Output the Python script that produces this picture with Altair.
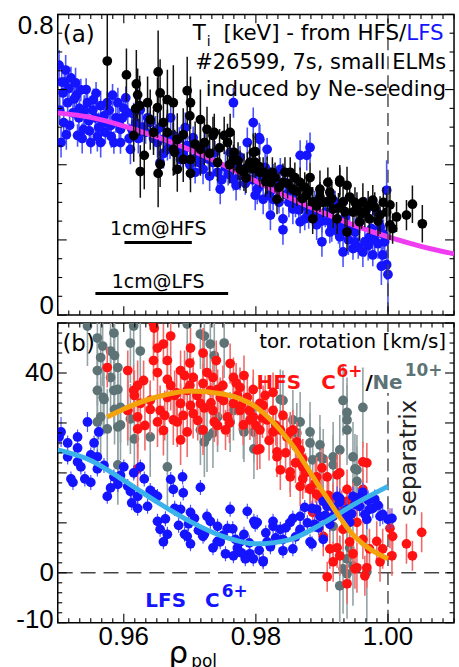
import altair as alt
import numpy as np
import pandas as pd

# ---------------- axes / domains ----------------
RHO_DOMAIN = [0.95, 1.01]
TI_DOMAIN = [0.0, 0.8]
V_DOMAIN = [-10.0, 50.0]

rho_major = [0.96, 0.98, 1.00]
rho_tick_labels = ["0.96", "0.98", "1.00"]
ti_major = [0.0, 0.2, 0.4, 0.6, 0.8]
ti_label_values = [0.8, 0.0]
ti_label_texts = ["0.8", "0"]
v_major = [-10, 0, 10, 20, 30, 40, 50]
v_label_values = [40, 0, -10]
v_label_texts = ["40", "0", "-10"]
rho_minor_step = 0.02 / 12
ti_minor_step = 0.05
v_minor_step = 2.0

# ---------------- panel (a): Ti [keV] ----------------
# LFS (blue) : (rho, Ti, error)
lfs_ti = [(0.9502,0.665,0.04),(0.9512,0.652,0.04),(0.9520,0.631,0.03),(0.9527,0.618,0.04),(0.9535,0.599,0.03),
 (0.9508,0.591,0.04),(0.9515,0.565,0.03),(0.9523,0.538,0.04),(0.9509,0.512,0.03),(0.9505,0.459,0.04),
 (0.9530,0.478,0.03),(0.9545,0.565,0.04),(0.9554,0.573,0.03),(0.9565,0.557,0.04),(0.9575,0.565,0.03),
 (0.9550,0.459,0.03),(0.9565,0.459,0.04),(0.9585,0.459,0.03),(0.9591,0.565,0.04),(0.9606,0.538,0.03),
 (0.9610,0.441,0.04),(0.9539,0.494,0.03),(0.9580,0.504,0.04),(0.9595,0.494,0.03),(0.9625,0.546,0.04),
 (0.9640,0.512,0.03),(0.9651,0.459,0.04),(0.9666,0.441,0.03),(0.9675,0.478,0.04),(0.9655,0.406,0.04),
 (0.9686,0.414,0.03),(0.9696,0.451,0.04),(0.9711,0.425,0.03),(0.9720,0.388,0.04),(0.9735,0.406,0.03),
 (0.9746,0.335,0.04),(0.9766,0.565,0.04),(0.9766,0.361,0.03),(0.9776,0.372,0.04),(0.9787,0.459,0.04),
 (0.9796,0.512,0.04),(0.9791,0.406,0.03),(0.9806,0.467,0.04),(0.9817,0.441,0.03),(0.9802,0.335,0.04),
 (0.9811,0.308,0.04),(0.9826,0.372,0.03),(0.9837,0.388,0.03),(0.9805,0.472,0.04),(0.9799,0.319,0.04),
 (0.9822,0.266,0.04),(0.9841,0.227,0.04),(0.9841,0.256,0.03),(0.9826,0.308,0.03),(0.9856,0.282,0.04),
 (0.9877,0.425,0.04),(0.9882,0.446,0.04),(0.9874,0.256,0.03),(0.9900,0.195,0.04),(0.9912,0.221,0.03),
 (0.9932,0.168,0.04),(0.9947,0.177,0.03),(0.9962,0.168,0.04),(0.9977,0.160,0.03),(0.9992,0.160,0.04),
 (0.9998,0.134,0.04),(1.0000,0.108,0.10),(0.9998,0.332,0.08),(0.9983,0.274,0.03),(0.9968,0.282,0.03),
 (0.9942,0.230,0.04),(0.9923,0.248,0.03),(0.9892,0.240,0.04),(0.9867,0.248,0.03),(0.9852,0.335,0.04),
 (0.9826,0.335,0.03),(0.9806,0.345,0.04),(0.9781,0.372,0.03),(0.9867,0.425,0.04),(0.9517,0.603,0.03),
 (0.9557,0.525,0.04),(0.9572,0.486,0.03),(0.9588,0.525,0.04),(0.9603,0.578,0.03),(0.9618,0.512,0.04),
 (0.9633,0.486,0.03),(0.9532,0.525,0.04),(0.9547,0.517,0.03),(0.9562,0.499,0.04),(0.9595,0.459,0.03),
 (0.9655,0.499,0.04),(0.9671,0.525,0.03),(0.9693,0.499,0.04),(0.9705,0.472,0.03),(0.9723,0.446,0.04),
 (0.9738,0.433,0.03),(0.9754,0.393,0.04),(0.9708,0.380,0.03),(0.9761,0.433,0.04),(0.9776,0.420,0.03),
 (0.9814,0.393,0.04),(0.9844,0.353,0.03),(0.9859,0.327,0.04),(0.9889,0.301,0.03),(0.9905,0.274,0.04),
 (0.9920,0.301,0.03),(0.9935,0.261,0.04),(0.9957,0.248,0.03),(0.9972,0.208,0.04),(0.9988,0.235,0.03),
 (0.9995,0.195,0.04),(0.9950,0.195,0.03),(0.9965,0.195,0.04),(0.9927,0.208,0.03),
 (0.9510,0.620,0.04),(0.9528,0.585,0.03),(0.9540,0.545,0.04),(0.9558,0.590,0.03),(0.9570,0.530,0.04),
 (0.9583,0.585,0.03),(0.9598,0.525,0.04),(0.9612,0.495,0.03),(0.9622,0.470,0.04),(0.9645,0.470,0.03),
 (0.9660,0.430,0.04),(0.9680,0.440,0.03),(0.9700,0.400,0.04),(0.9715,0.405,0.03),(0.9730,0.370,0.04),
 (0.9748,0.360,0.03),(0.9770,0.345,0.04),(0.9795,0.360,0.03),(0.9820,0.320,0.04),(0.9835,0.300,0.03),
 (0.9850,0.300,0.04),(0.9865,0.280,0.03),(0.9880,0.270,0.04),(0.9895,0.265,0.03),(0.9910,0.250,0.04),
 (0.9930,0.235,0.03),(0.9950,0.220,0.04),(0.9975,0.230,0.03),(0.9985,0.190,0.04),(0.9990,0.130,0.05),
 (0.9503,0.545,0.04),(0.9506,0.620,0.04),(0.9513,0.480,0.04),(0.9518,0.505,0.03),(0.9525,0.575,0.04),
 (0.9533,0.550,0.03),(0.9537,0.470,0.04),(0.9543,0.600,0.03),(0.9548,0.490,0.04),(0.9553,0.545,0.03),
 (0.9560,0.475,0.04),(0.9568,0.510,0.03),(0.9578,0.545,0.04),(0.9581,0.475,0.03),(0.9593,0.510,0.04),
 (0.9600,0.550,0.03),(0.9608,0.470,0.04),(0.9615,0.535,0.03),(0.9628,0.500,0.04),(0.9636,0.525,0.03),
 (0.9648,0.490,0.04),(0.9662,0.470,0.03),(0.9670,0.455,0.04),(0.9684,0.470,0.03),(0.9690,0.430,0.04),
 (0.9702,0.445,0.03),(0.9718,0.420,0.04),(0.9728,0.415,0.03),(0.9742,0.380,0.04),(0.9758,0.375,0.03),
 (0.9773,0.395,0.04),(0.9784,0.350,0.03),(0.9800,0.380,0.04),(0.9810,0.360,0.03),(0.9830,0.345,0.04),
 (0.9846,0.320,0.03),(0.9860,0.300,0.04),(0.9872,0.290,0.03),(0.9886,0.280,0.04),(0.9900,0.250,0.03),
 (0.9915,0.235,0.04),(0.9925,0.220,0.03),(0.9940,0.200,0.04),(0.9955,0.180,0.03),(0.9970,0.185,0.04),
 (0.9980,0.200,0.03),(0.9993,0.215,0.04)]

# HFS (black) : (rho, Ti, error)
hfs_ti = [(0.9575,0.676,0.13),(0.9604,0.639,0.07),(0.9619,0.615,0.09),(0.9652,0.647,0.11),(0.9621,0.586,0.07),
 (0.9618,0.549,0.06),(0.9636,0.565,0.07),(0.9655,0.591,0.09),(0.9666,0.573,0.08),(0.9675,0.565,0.10),
 (0.9696,0.597,0.09),(0.9701,0.565,0.07),(0.9615,0.478,0.07),(0.9631,0.425,0.09),(0.9645,0.486,0.06),
 (0.9660,0.512,0.08),(0.9625,0.382,0.07),(0.9652,0.377,0.09),(0.9655,0.401,0.06),(0.9681,0.388,0.06),
 (0.9701,0.377,0.05),(0.9690,0.414,0.06),(0.9675,0.441,0.07),(0.9716,0.441,0.07),(0.9726,0.494,0.06),
 (0.9735,0.478,0.05),(0.9716,0.520,0.08),(0.9742,0.406,0.05),(0.9757,0.459,0.05),(0.9761,0.486,0.05),
 (0.9766,0.414,0.04),(0.9776,0.388,0.05),(0.9796,0.433,0.05),(0.9806,0.380,0.04),(0.9817,0.372,0.05),
 (0.9832,0.308,0.04),(0.9841,0.353,0.05),(0.9852,0.380,0.04),(0.9856,0.335,0.05),(0.9867,0.353,0.04),
 (0.9877,0.319,0.05),(0.9886,0.301,0.04),(0.9897,0.335,0.05),(0.9908,0.301,0.04),(0.9917,0.282,0.05),
 (0.9927,0.353,0.04),(0.9938,0.345,0.05),(0.9923,0.256,0.04),(0.9886,0.256,0.04),(0.9938,0.221,0.05),
 (0.9947,0.274,0.04),(0.9962,0.301,0.05),(0.9977,0.306,0.04),(0.9957,0.248,0.05),(0.9972,0.256,0.04),
 (0.9988,0.266,0.05),(0.9998,0.274,0.05),(1.0003,0.293,0.05),(1.0007,0.230,0.04),(1.0013,0.261,0.04),
 (1.0028,0.266,0.04),(1.0037,0.295,0.05),(1.0052,0.243,0.05),(1.0003,0.240,0.04),(0.9624,0.557,0.08),
 (0.9651,0.552,0.08),(0.9666,0.486,0.06),(0.9681,0.467,0.07),(0.9677,0.433,0.06),(0.9701,0.414,0.05),
 (0.9722,0.459,0.06),(0.9737,0.486,0.05),(0.9752,0.478,0.05),(0.9767,0.433,0.05),(0.9782,0.380,0.05),
 (0.9791,0.406,0.05),(0.9787,0.393,0.04),(0.9799,0.406,0.04),(0.9811,0.380,0.04),(0.9822,0.353,0.04),
 (0.9829,0.366,0.04),(0.9844,0.380,0.04),(0.9859,0.366,0.04),(0.9874,0.340,0.04),(0.9882,0.366,0.04),
 (0.9897,0.314,0.04),(0.9912,0.327,0.04),(0.9932,0.301,0.04),(0.9942,0.314,0.04),(0.9953,0.287,0.04),
 (0.9965,0.274,0.04),(0.9980,0.287,0.04),(0.9799,0.435,0.05),(0.9927,0.359,0.04),(0.9909,0.353,0.04),
 (0.9760,0.400,0.05),(0.9773,0.410,0.05),(0.9785,0.365,0.04),(0.9795,0.390,0.04),(0.9805,0.395,0.04),
 (0.9815,0.355,0.04),(0.9825,0.380,0.04),(0.9835,0.340,0.04),(0.9848,0.350,0.04),(0.9862,0.330,0.04),
 (0.9870,0.310,0.04),(0.9880,0.330,0.04),(0.9892,0.290,0.04),(0.9902,0.300,0.04),(0.9915,0.310,0.04),
 (0.9925,0.285,0.04),(0.9935,0.275,0.04),(0.9950,0.300,0.04),(0.9960,0.270,0.04),(0.9970,0.290,0.04),
 (0.9985,0.250,0.04),(0.9993,0.300,0.04),(0.9708,0.455,0.06),(0.9730,0.430,0.06),(0.9745,0.445,0.05),
 (0.9690,0.480,0.07),(0.9640,0.520,0.08),(0.9700,0.530,0.07)]

ti_fit_x = [0.950, 0.955, 0.960, 0.965, 0.970, 0.975, 0.980, 0.985, 0.990, 0.995, 1.000, 1.005, 1.010]
ti_fit_y = [0.538, 0.526, 0.503, 0.474, 0.440, 0.400, 0.356, 0.313, 0.274, 0.238, 0.208, 0.183, 0.163]

scalebar_text = ["1cm@HFS", "1cm@LFS"]
scalebar_start = [0.9601, 0.9557]
scalebar_end = [0.9703, 0.9758]
scalebar_y = [0.193, 0.0573]
scalebar_label_x = [0.9652, 0.9652]
scalebar_label_y = [0.229, 0.089]

# ---------------- panel (b): toroidal rotation [km/s] ----------------
lfs_v = [(0.9502,27.2,1.5),(0.9515,26.0,1.5),(0.9530,27.2,1.5),(0.9545,30.2,2.0),(0.9562,28.2,1.5),(0.9515,23.2,1.5),
 (0.9523,18.1,1.5),(0.9535,21.2,1.5),(0.9550,18.1,1.5),(0.9560,23.2,1.5),(0.9575,15.3,1.5),(0.9585,19.2,1.5),
 (0.9600,21.2,1.5),(0.9606,17.3,1.5),(0.9615,20.0,1.5),(0.9621,15.3,1.5),(0.9625,21.2,1.5),(0.9636,13.3,1.5),
 (0.9651,15.3,1.5),(0.9655,8.7,1.5),(0.9660,6.2,1.5),(0.9671,18.7,1.5),(0.9675,16.7,1.5),(0.9689,19.2,1.5),
 (0.9686,12.7,1.5),(0.9701,12.1,1.5),(0.9696,7.3,1.5),(0.9716,17.1,1.5),(0.9720,7.3,1.5),(0.9726,11.3,1.5),
 (0.9742,9.3,1.5),(0.9746,6.2,1.5),(0.9761,12.7,1.5),(0.9766,3.4,1.5),(0.9776,6.2,1.5),(0.9787,12.3,1.5),
 (0.9796,2.8,1.5),(0.9811,2.2,1.5),(0.9802,10.1,1.5),(0.9817,6.2,1.5),(0.9826,9.3,1.5),(0.9841,6.7,1.5),
 (0.9852,10.1,1.5),(0.9856,4.8,1.5),(0.9867,11.3,1.5),(0.9882,6.2,1.5),(0.9892,12.7,1.5),(0.9902,6.7,1.5),
 (0.9908,13.3,1.5),(0.9917,11.3,1.5),(0.9927,14.1,2.0),(0.9938,12.7,2.0),(0.9947,15.3,2.0),(0.9957,13.3,2.0),
 (0.9962,16.1,2.0),(0.9972,12.7,2.0),(0.9988,11.3,2.0),(1.0000,10.7,2.0),(0.9923,15.3,2.0),(0.9942,10.1,2.0),
 (0.9968,10.7,2.0),(0.9897,11.3,1.5),(0.9505,28.2,3.0),(0.9520,18.8,1.5),(0.9541,18.8,1.5),(0.9530,22.2,1.5),
 (0.9550,23.6,1.5),(0.9560,20.8,1.5),(0.9591,17.7,1.5),(0.9610,16.3,1.5),(0.9621,12.9,1.5),(0.9631,18.8,1.5),
 (0.9646,15.7,1.5),(0.9651,10.3,1.5),(0.9666,7.7,1.5),(0.9677,12.9,1.5),(0.9692,7.7,1.5),(0.9701,5.8,1.5),
 (0.9707,10.9,1.5),(0.9722,7.7,1.5),(0.9731,10.3,1.5),(0.9742,6.3,1.5),(0.9757,8.9,1.5),(0.9772,5.0,1.5),
 (0.9782,7.7,1.5),(0.9791,3.8,1.5),(0.9797,10.3,1.5),(0.9799,9.7,1.5),(0.9826,10.3,1.5),(0.9856,10.9,1.5),
 (0.9885,12.9,1.5),(0.9902,14.3,1.5),(0.9927,14.9,2.0),(0.9977,12.9,2.0),(0.9992,11.7,2.0),(1.0006,10.9,2.0),
 (0.9841,4.4,1.5),(0.9811,2.4,1.5),(0.9885,5.8,1.5),(0.9867,8.7,1.5),(0.9912,9.7,1.5),(0.9935,10.7,2.0),
 (0.9950,13.7,2.0),(0.9980,14.7,2.0),(0.9965,11.7,2.0),(0.9889,9.7,1.5),(0.9874,13.1,1.5),(0.9837,8.7,1.5),
 (0.9822,5.2,1.5),(0.9769,6.7,1.5),(0.9754,3.8,1.5),(0.9784,2.8,1.5),
 (0.9663,10.8,1.5),(0.9683,9.5,1.5),(0.9698,9.8,1.5),(0.9713,8.5,1.5),(0.9735,5.0,1.5),(0.9750,7.5,1.5),
 (0.9765,8.8,1.5),(0.9778,4.0,1.5),(0.9790,6.0,1.5),(0.9805,4.5,1.5),(0.9815,8.0,1.5),(0.9830,7.0,1.5),
 (0.9845,9.0,1.5),(0.9860,7.2,1.5),(0.9878,10.0,1.5),(0.9895,9.0,1.5),(0.9905,11.5,1.5),(0.9918,13.0,2.0),
 (0.9932,12.0,2.0),(0.9945,11.8,2.0),(0.9955,15.0,2.0),(0.9970,14.5,2.0),(0.9985,13.5,2.0),(0.9530,25.0,1.5),
 (0.9555,26.0,1.5),(0.9570,21.5,1.5),(0.9580,17.0,1.5),(0.9595,19.5,1.5),(0.9612,14.0,1.5),(0.9640,16.5,1.5),
 (0.9690,16.0,1.5)]

hfs_c_v = [(0.9575,41.1,4),(0.9606,40.5,4),(0.9630,38.5,4),(0.9615,36.5,5),(0.9645,49.8,5),(0.9651,45.0,5),
 (0.9660,45.8,4),(0.9671,47.4,5),(0.9645,42.5,4),(0.9666,42.5,5),(0.9686,40.5,4),(0.9701,45.0,4),(0.9705,39.1,4),
 (0.9720,37.9,4),(0.9735,39.1,4),(0.9761,41.9,4),(0.9766,39.1,4),(0.9776,37.1,4),(0.9621,31.2,6),(0.9625,33.9,5),
 (0.9640,34.5,4),(0.9655,32.5,5),(0.9666,35.1,4),(0.9675,30.6,5),(0.9686,33.9,4),(0.9696,36.5,4),(0.9705,31.9,5),
 (0.9716,33.9,4),(0.9720,28.6,5),(0.9735,32.5,4),(0.9746,35.1,4),(0.9757,31.2,4),(0.9766,33.9,4),(0.9776,32.5,4),
 (0.9787,35.1,4),(0.9796,31.2,4),(0.9806,33.9,4),(0.9806,28.6,4),(0.9817,30.6,4),(0.9802,24.6,4),(0.9826,32.5,4),
 (0.9837,28.6,4),(0.9847,27.2,4),(0.9856,28.6,4),(0.9832,23.2,4),(0.9837,20.6,4),(0.9852,19.2,4),(0.9867,24.6,4),
 (0.9871,21.2,4),(0.9867,17.3,4),(0.9882,16.7,4),(0.9892,19.2,4),(0.9908,19.2,4),(0.9927,20.0,4),(0.9897,15.3,4),
 (0.9917,14.1,4),(0.9938,16.7,4),(0.9947,14.1,4),(0.9968,22.0,4),(0.9962,16.7,4),(0.9902,7.3,4),(0.9912,4.8,4),
 (0.9927,3.4,4),(0.9942,6.2,4),(0.9953,10.1,4),(0.9962,6.7,4),(0.9972,4.8,4),(0.9988,2.2,4),(0.9992,4.8,4),
 (1.0007,7.3,4),(1.0006,3.4,4),(1.0028,5.8,4),(1.0037,3.4,3),(1.0051,8.1,4),(0.9908,-0.8,3),(0.9938,-2.2,4),
 (0.9950,0.8,4),(0.9965,-0.6,4),(0.9917,2.2,4),(0.9886,12.1,4),(0.9932,8.7,4),(0.9621,37.5,5),(0.9616,35.5,5),
 (0.9651,40.1,5),(0.9666,38.7,5),(0.9677,35.5,5),(0.9662,31.5,5),(0.9640,32.7,5),(0.9621,28.8,6),(0.9651,30.2,5),
 (0.9696,28.2,5),(0.9681,30.2,5),(0.9701,33.5,5),(0.9737,30.2,4),(0.9726,40.1,4),(0.9742,36.7,4),(0.9782,39.5,4),
 (0.9692,39.5,5),(0.9646,49.0,5),(0.9796,36.7,4),(0.9811,33.5,4),(0.9826,36.1,4),(0.9841,31.5,4),(0.9826,28.2,4),
 (0.9852,28.2,4),(0.9862,26.2,4),(0.9806,24.8,4),(0.9832,24.2,4),(0.9852,20.2,4),(0.9871,22.8,4),(0.9871,18.8,4),
 (0.9882,16.9,4),(0.9892,15.7,4),(0.9923,19.6,4),(0.9962,22.2,4),(0.9938,14.3,4),(0.9923,5.0,4),(0.9947,3.8,4),
 (0.9953,1.0,5),(0.9968,1.0,4),(0.9983,6.3,4),(1.0003,8.9,4),(0.9671,37.5,5),(0.9711,35.5,4),(0.9731,36.5,4),
 (0.9751,34.5,4),(0.9772,35.5,4),(0.9791,30.6,4),(0.9814,35.5,4),(0.9781,29.6,4),(0.9754,28.6,4),(0.9686,26.6,5),
 (0.9606,32.5,6),(0.9621,20.8,5),
 (0.9680,36.0,5),(0.9690,31.5,5),(0.9700,37.5,4),(0.9712,30.5,4),(0.9722,33.0,4),(0.9732,34.0,4),(0.9742,29.5,4),
 (0.9750,37.5,4),(0.9760,30.0,4),(0.9770,38.0,4),(0.9778,33.5,4),(0.9790,32.5,4),(0.9800,29.5,4),(0.9810,31.0,4),
 (0.9820,26.5,4),(0.9830,29.5,4),(0.9845,24.0,4),(0.9860,22.0,4),(0.9875,20.0,4),(0.9890,18.0,4),(0.9900,21.0,4),
 (0.9910,15.5,4),(0.9930,12.5,4),(0.9660,28.5,5),(0.9632,29.5,5),(0.9700,42.0,4),(0.9740,42.5,4),(0.9720,44.0,5)]

hfs_ne_v = [(0.9545,49.4,8),(0.9560,47.0,8),(0.9585,48.0,8),(0.9615,49.4,8),(0.9610,46.0,8),(0.9625,44.4,7),
 (0.9565,43.1,7),(0.9580,44.4,8),(0.9560,40.5,7),(0.9580,39.1,7),(0.9591,41.1,7),(0.9560,36.5,7),(0.9569,35.1,7),
 (0.9585,36.5,7),(0.9595,33.1,7),(0.9565,31.2,8),(0.9591,29.2,8),(0.9606,32.5,7),(0.9716,47.8,7),(0.9696,49.8,7),
 (0.9731,45.8,7),(0.9640,27.2,8),(0.9666,21.2,8),(0.9716,28.6,7),(0.9726,27.2,7),(0.9735,28.0,7),(0.9742,31.2,7),
 (0.9766,32.5,6),(0.9796,33.1,6),(0.9841,34.5,6),(0.9856,30.6,6),(0.9862,28.0,6),(0.9882,26.0,6),(0.9897,23.2,6),
 (0.9932,34.5,7),(0.9938,30.6,7),(0.9938,28.6,7),(0.9927,24.6,7),(0.9962,33.1,8),(0.9947,23.2,7),(0.9953,20.6,7),
 (0.9917,23.2,7),(0.9886,22.6,6),(0.9938,2.8,8),(0.9932,0.8,9),(0.9927,-2.6,10),(0.9947,1.4,8),(0.9968,0.2,10),
 (0.9917,9.3,8),(0.9897,15.3,7),(0.9568,45.4,8),(0.9586,43.5,8),(0.9570,34.7,7),(0.9591,36.7,7),(0.9586,32.7,7),
 (0.9560,30.2,8),(0.9575,28.8,8),(0.9595,29.6,7),(0.9610,30.8,7),(0.9616,26.8,8),(0.9591,21.6,8),(0.9722,47.4,7),
 (0.9737,43.5,7),(0.9752,46.0,7),(0.9761,30.2,6),(0.9782,28.2,6),(0.9797,28.2,6),(0.9797,24.8,6),(0.9722,26.2,7),
 (0.9781,28.8,6),(0.9837,34.7,6),(0.9867,30.2,6),(0.9882,28.2,6),(0.9897,25.6,6),(0.9902,22.8,6),(0.9917,21.6,6),
 (0.9938,32.1,7),(0.9950,20.8,7),(0.9953,18.3,7),(0.9938,-0.2,9),(0.9942,5.0,8)]

hfs_fit_x = [0.9575, 0.960, 0.965, 0.970, 0.975, 0.980, 0.985, 0.990, 0.995, 1.000]
hfs_fit_y = [31.2, 32.8, 35.2, 36.4, 35.8, 33.2, 26.5, 16.5, 7.2, 2.8]
lfs_fit_x = [0.950, 0.955, 0.960, 0.965, 0.970, 0.975, 0.980, 0.985, 0.990, 0.995, 1.000]
lfs_fit_y = [24.6, 22.5, 18.5, 14.2, 10.3, 7.3, 5.8, 6.6, 9.8, 13.8, 17.3]

separatrix_rho = 1.00
sep_b_top = 36.0

# ---------------- styling ----------------
W, HA, HB = 398, 302, 301
MAJ, MIN = 9, 4.5
ANN_FONT = "DejaVu Sans"
TICK_FONT = "Liberation Sans"
C_BLUE, C_BLUE_BAR = "#1414ff", "#4b55ff"
C_RED, C_RED_BAR = "#ff1212", "#f06a6a"
C_GRAY, C_GRAY_BAR = "#5d7376", "#93a3a5"
DOT = 96

xs = alt.Scale(domain=RHO_DOMAIN, nice=False, zero=False)
ysa = alt.Scale(domain=TI_DOMAIN, nice=False, zero=False)
ysb = alt.Scale(domain=V_DOMAIN, nice=False, zero=False)
ONE = pd.DataFrame({"k": [0]})


def table(rows):
    df = pd.DataFrame(rows, columns=["x", "y", "e"])
    df["lo"] = df["y"] - df["e"]
    df["hi"] = df["y"] + df["e"]
    return df


def minor(lo, hi, step, majors):
    vals = np.round(np.arange(lo, hi + step / 2, step), 6)
    return [float(v) for v in vals if all(abs(v - m) > step / 10 for m in majors)]


def bars(df, color, ys, w=1.6):
    return alt.Chart(df).mark_rule(color=color, strokeWidth=w, clip=True).encode(
        x=alt.X("x:Q", scale=xs, axis=None),
        y=alt.Y("lo:Q", scale=ys, axis=None), y2="hi:Q")


def dots(df, color, ys, size=DOT):
    return alt.Chart(df).mark_circle(color=color, size=size, opacity=1, clip=True).encode(
        x=alt.X("x:Q", scale=xs, axis=None), y=alt.Y("y:Q", scale=ys, axis=None))


def curve(fx, fy, color, ys):
    return alt.Chart(pd.DataFrame({"x": fx, "y": fy})).mark_line(
        color=color, strokeWidth=5, interpolate="monotone", clip=True).encode(
        x=alt.X("x:Q", scale=xs, axis=None), y=alt.Y("y:Q", scale=ys, axis=None))


def ticks(ys, H, ymaj, ymin):
    out = []
    xmin = minor(RHO_DOMAIN[0], RHO_DOMAIN[1], rho_minor_step, rho_major)
    for vals, L in ((rho_major, MAJ), (xmin, MIN)):
        base = alt.Chart(pd.DataFrame({"v": vals})).mark_rule(color="black", strokeWidth=1.1)
        out.append(base.encode(x=alt.X("v:Q", scale=xs, axis=None), y=alt.value(H), y2=alt.value(H - L)))
        out.append(base.encode(x=alt.X("v:Q", scale=xs, axis=None), y=alt.value(0), y2=alt.value(L)))
    for vals, L in ((ymaj, MAJ), (ymin, MIN)):
        base = alt.Chart(pd.DataFrame({"v": vals})).mark_rule(color="black", strokeWidth=1.1)
        out.append(base.encode(y=alt.Y("v:Q", scale=ys, axis=None), x=alt.value(0), x2=alt.value(L)))
        out.append(base.encode(y=alt.Y("v:Q", scale=ys, axis=None), x=alt.value(W), x2=alt.value(W - L)))
    return out


def label(text, x, y, size=21, color="black", align="left", weight="normal", font=ANN_FONT, angle=0, baseline="alphabetic"):
    return alt.Chart(ONE).mark_text(text=text, fontSize=size, color=color, align=align, baseline=baseline,
                                    fontWeight=weight, font=font, angle=angle).encode(
        x=alt.value(x), y=alt.value(y))


def ylabels(values, texts, ys, baselines, dys):
    out = []
    for v, t, b, d in zip(values, texts, baselines, dys):
        out.append(alt.Chart(pd.DataFrame({"v": [v], "t": [t]})).mark_text(
            font=TICK_FONT, fontSize=26, align="right", baseline=b, dy=d, color="black").encode(
            y=alt.Y("v:Q", scale=ys, axis=None), x=alt.value(-4), text="t:N"))
    return out


# ---------------- panel (a) ----------------
lfs_a, hfs_a = table(lfs_ti), table(hfs_ti)
sb = pd.DataFrame({"t": scalebar_text, "x1": scalebar_start, "x2": scalebar_end, "y": scalebar_y,
                   "lx": scalebar_label_x, "ly": scalebar_label_y})
sep_a = pd.DataFrame({"x": [separatrix_rho], "y1": [TI_DOMAIN[0]], "y2": [TI_DOMAIN[1]]})

layers_a = [
    bars(lfs_a, C_BLUE_BAR, ysa), dots(lfs_a, C_BLUE, ysa),
    curve(ti_fit_x, ti_fit_y, "#f03cf0", ysa),
    bars(hfs_a, "#111111", ysa, 1.5), dots(hfs_a, "black", ysa),
    alt.Chart(sep_a).mark_rule(color="#444444", strokeWidth=1.4, strokeDash=[13, 6]).encode(
        x=alt.X("x:Q", scale=xs, axis=None), y=alt.Y("y1:Q", scale=ysa, axis=None), y2="y2:Q"),
    alt.Chart(sb).mark_rule(color="black", strokeWidth=3).encode(
        x=alt.X("x1:Q", scale=xs, axis=None), x2="x2:Q", y=alt.Y("y:Q", scale=ysa, axis=None)),
    alt.Chart(sb).mark_text(font=ANN_FONT, fontSize=19, align="center", color="black").encode(
        x=alt.X("lx:Q", scale=xs, axis=None), y=alt.Y("ly:Q", scale=ysa, axis=None), text="t:N"),
    label("(a)", 5, 27.5, size=23),
    label("T", 135.7, 25.7, size=21.5),
    label("i", 149.7, 32, size=14),
    label("[keV] - from HFS/", 350, 25.7, size=21.5, align="right"),
    label("LFS", 350, 25.7, size=21.5, align="left", color=C_BLUE),
    label("#26599, 7s, small ELMs", 390, 54.7, align="right"),
    label("induced by Ne-seeding", 390, 82.3, align="right"),
]
layers_a += ticks(ysa, HA, ti_major, minor(TI_DOMAIN[0], TI_DOMAIN[1], ti_minor_step, ti_major))
layers_a += ylabels(ti_label_values, ti_label_texts, ysa, ["alphabetic", "alphabetic"], [19.5, -1])
panel_a = alt.layer(*layers_a).properties(width=W, height=HA)

# ---------------- panel (b) ----------------
ne_b, c_b, l_b = table(hfs_ne_v), table(hfs_c_v), table(lfs_v)
sep_b = pd.DataFrame({"x": [separatrix_rho], "y1": [V_DOMAIN[0]], "y2": [sep_b_top]})
zero_b = pd.DataFrame({"x1": [RHO_DOMAIN[0]], "x2": [RHO_DOMAIN[1]], "y": [0.0]})
xlab = pd.DataFrame({"v": rho_major, "t": rho_tick_labels})

layers_b = [
    alt.Chart(zero_b).mark_rule(color="#444444", strokeWidth=1.4, strokeDash=[15, 8]).encode(
        x=alt.X("x1:Q", scale=xs, axis=None), x2="x2:Q", y=alt.Y("y:Q", scale=ysb, axis=None)),
    alt.Chart(sep_b).mark_rule(color="#444444", strokeWidth=1.4, strokeDash=[13, 6]).encode(
        x=alt.X("x:Q", scale=xs, axis=None), y=alt.Y("y1:Q", scale=ysb, axis=None), y2="y2:Q"),
    bars(ne_b, C_GRAY_BAR, ysb), dots(ne_b, C_GRAY, ysb),
    bars(c_b, C_RED_BAR, ysb), dots(c_b, C_RED, ysb),
    bars(l_b, C_BLUE_BAR, ysb, 1.2), dots(l_b, C_BLUE, ysb),
    curve(lfs_fit_x, lfs_fit_y, "#3cb2ea", ysb),
    curve(hfs_fit_x, hfs_fit_y, "#f5a30c", ysb),
    label("(b)", 4.7, 28.5, size=23),
    label("tor. rotation [km/s]", 390, 25, size=20, align="right"),
    label("HFS", 199.7, 66, size=20, weight="bold", color=C_RED),
    label("C", 264.7, 66, size=20, weight="bold", color=C_RED),
    label("6+", 280, 54, size=17, weight="bold", color=C_RED),
    label("/", 309, 66, size=20, weight="bold", color="black"),
    label("Ne", 316, 66, size=20, weight="bold", color=C_GRAY),
    label("10+", 348.5, 53, size=17, weight="bold", color=C_GRAY),
    label("LFS", 88, 284.7, size=20, weight="bold", color=C_BLUE),
    label("C", 148, 284.7, size=20, weight="bold", color=C_BLUE),
    label("6+", 164.7, 274.7, size=17, weight="bold", color=C_BLUE),
    label("separatrix", 353, 135.5, size=23, angle=270, align="center", baseline="middle", color="#222222"),
    label("ρ", 121, 341, size=31, align="center"),
    label("pol", 134, 345, size=17),
    alt.Chart(xlab).mark_text(font=TICK_FONT, fontSize=26, align="center", baseline="top", dy=1,
                              color="black").encode(
        x=alt.X("v:Q", scale=xs, axis=None), y=alt.value(HB), text="t:N"),
]
layers_b += ticks(ysb, HB, v_major, minor(V_DOMAIN[0], V_DOMAIN[1], v_minor_step, v_major))
layers_b += ylabels(v_label_values, v_label_texts, ysb, ["middle", "middle", "middle"], [0, 0, -2.5])
panel_b = alt.layer(*layers_b).properties(width=W, height=HB)

chart = alt.vconcat(panel_a, panel_b, spacing=8, bounds="flush").properties(
    padding={"left": 15, "top": 10, "right": 3, "bottom": 0}
).configure_view(stroke="black", strokeWidth=1.5)

chart.save("out.html", embed_options={"renderer": "svg", "actions": False})
